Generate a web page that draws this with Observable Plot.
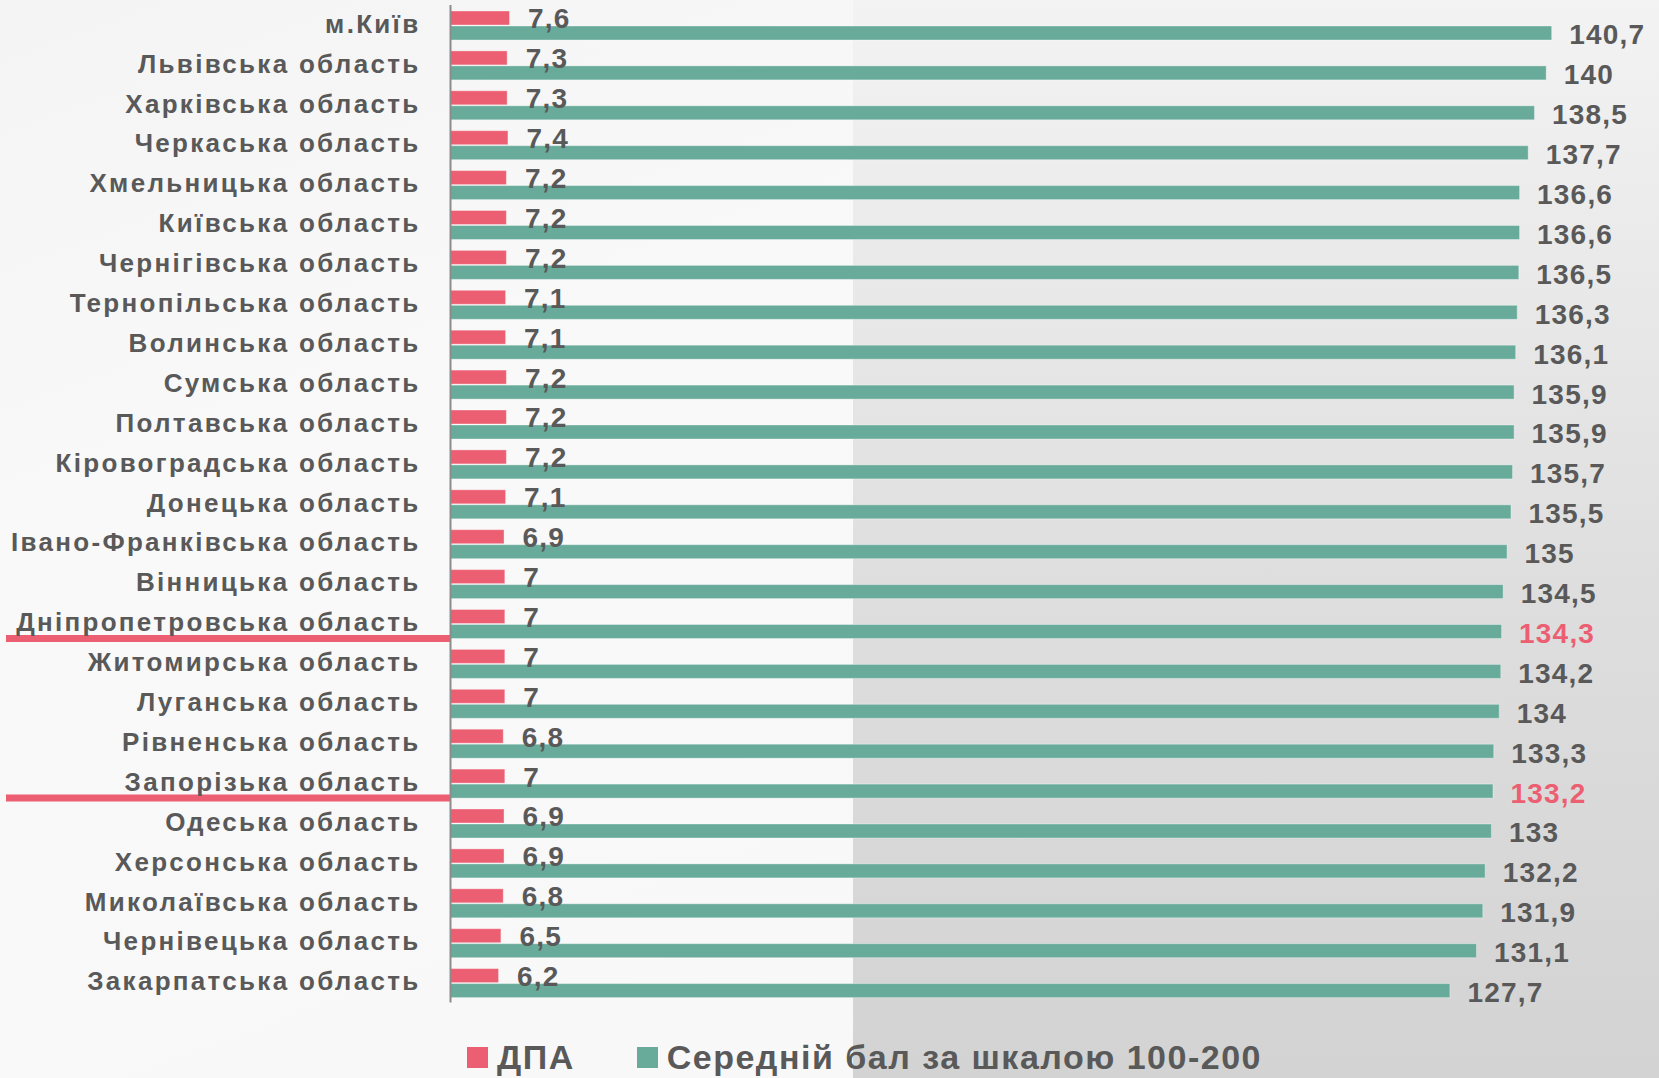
<!DOCTYPE html>
<html>
<head>
<meta charset="utf-8">
<script src="https://cdn.jsdelivr.net/npm/d3@7"></script>
<script src="https://cdn.jsdelivr.net/npm/@observablehq/plot@0.6"></script>
<style>
  html, body { margin: 0; padding: 0; }
  #page { position: relative; width: 1659px; height: 1078px; overflow: hidden; font-family: "Liberation Sans", Arial, sans-serif; }
  #bgL { position: absolute; left: 0; top: 0; width: 853px; height: 1078px; background: linear-gradient(160deg, #f4f4f4 0%, #f9f9f9 40%, #f8f8f8 100%); }
  #bgR { position: absolute; left: 853px; top: 0; width: 806px; height: 1078px; background: linear-gradient(to bottom, #f3f3f3 0%, #dedede 55%, #d3d3d3 100%); }
  #chart { position: absolute; left: 0; top: 0; }
  #chart svg { background: transparent !important; overflow: visible; }
  #chart svg text { font-family: "Liberation Sans", Arial, sans-serif; font-weight: bold; }
  .ylab text { letter-spacing: 2.3px; }
  .vlab text { letter-spacing: 1.2px; }
  #legend { position: absolute; left: 467px; top: 1038px; height: 38px; line-height: 38px; display: flex; align-items: center; font-weight: bold; font-size: 34px; color: #595959; letter-spacing: 1.5px; }
  #legend .sw { display: inline-block; width: 21px; height: 21px; margin-right: 9px; }
  #legend .item { display: flex; align-items: center; margin-right: 62px; }
</style>
</head>
<body>
<div id="page">
  <div id="bgL"></div>
  <div id="bgR"></div>
  <div id="chart"></div>
  <div id="legend"></div>
</div>
<script>
const regions = ["м.Київ","Львівська область","Харківська область","Черкаська область","Хмельницька область","Київська область","Чернігівська область","Тернопільська область","Волинська область","Сумська область","Полтавська область","Кіровоградська область","Донецька область","Івано-Франківська область","Вінницька область","Дніпропетровська область","Житомирська область","Луганська область","Рівненська область","Запорізька область","Одеська область","Херсонська область","Миколаївська область","Чернівецька область","Закарпатська область"];
const dpa = [7.6,7.3,7.3,7.4,7.2,7.2,7.2,7.1,7.1,7.2,7.2,7.2,7.1,6.9,7,7,7,7,6.8,7,6.9,6.9,6.8,6.5,6.2];
const avgScore = [140.7,140,138.5,137.7,136.6,136.6,136.5,136.3,136.1,135.9,135.9,135.7,135.5,135,134.5,134.3,134.2,134,133.3,133.2,133,132.2,131.9,131.1,127.7];
const highlighted = ["Дніпропетровська область","Запорізька область"];
const seriesNames = ["ДПА","Середній бал за шкалою 100-200"];
const seriesColors = ["#ec5f72","#69ab9a"];

const rows = regions.map((r, i) => ({region: r, dpa: dpa[i], avg: avgScore[i], hl: highlighted.includes(r)}));
const fmt = v => String(v).replace(".", ",");
const textGray = "#595959";

const chart = Plot.plot({
  width: 1659,
  height: 1036,
  marginLeft: 450,
  marginRight: 34.5,
  marginTop: 5,
  marginBottom: 33.5,
  style: {background: "transparent"},
  x: {domain: [0, 150], axis: null},
  y: {domain: regions, padding: 0, round: false, axis: null, label: null},
  marks: [
    Plot.barX(rows, {y: "region", x: "dpa", fill: seriesColors[0], insetTop: 6, insetBottom: 19.9, stroke: "#ffffff", strokeOpacity: 0.35, strokeWidth: 1}),
    Plot.barX(rows, {y: "region", x: "avg", fill: seriesColors[1], insetTop: 21, insetBottom: 4.9, stroke: "#ffffff", strokeOpacity: 0.35, strokeWidth: 1}),
    Plot.ruleX([0], {stroke: "#8c8c8c", strokeWidth: 2}),
    Plot.ruleY(rows.filter(d => d.hl), {y: "region", x1: 0, x2: 0, insetLeft: -444, dy: 14.5, stroke: seriesColors[0], strokeWidth: 7}),
    Plot.axisY({tickSize: 0, tickPadding: 30, fontSize: 26, fill: textGray, className: "ylab", dy: -1, label: null}),
    Plot.text(rows, {y: "region", x: "dpa", text: d => fmt(d.dpa), textAnchor: "start", dx: 18, dy: -6, fontSize: 28, fill: textGray, className: "vlab"}),
    Plot.text(rows, {y: "region", x: "avg", text: d => fmt(d.avg), textAnchor: "start", dx: 17, dy: 10, fontSize: 28, fill: d => d.hl ? seriesColors[0] : textGray, className: "vlab"})
  ]
});
document.getElementById("chart").appendChild(chart);

const legend = document.getElementById("legend");
seriesNames.forEach((name, i) => {
  const item = document.createElement("div");
  item.className = "item";
  const sw = document.createElement("span");
  sw.className = "sw";
  sw.style.background = seriesColors[i];
  const t = document.createElement("span");
  t.textContent = name;
  item.appendChild(sw);
  item.appendChild(t);
  legend.appendChild(item);
});
</script>
</body>
</html>
